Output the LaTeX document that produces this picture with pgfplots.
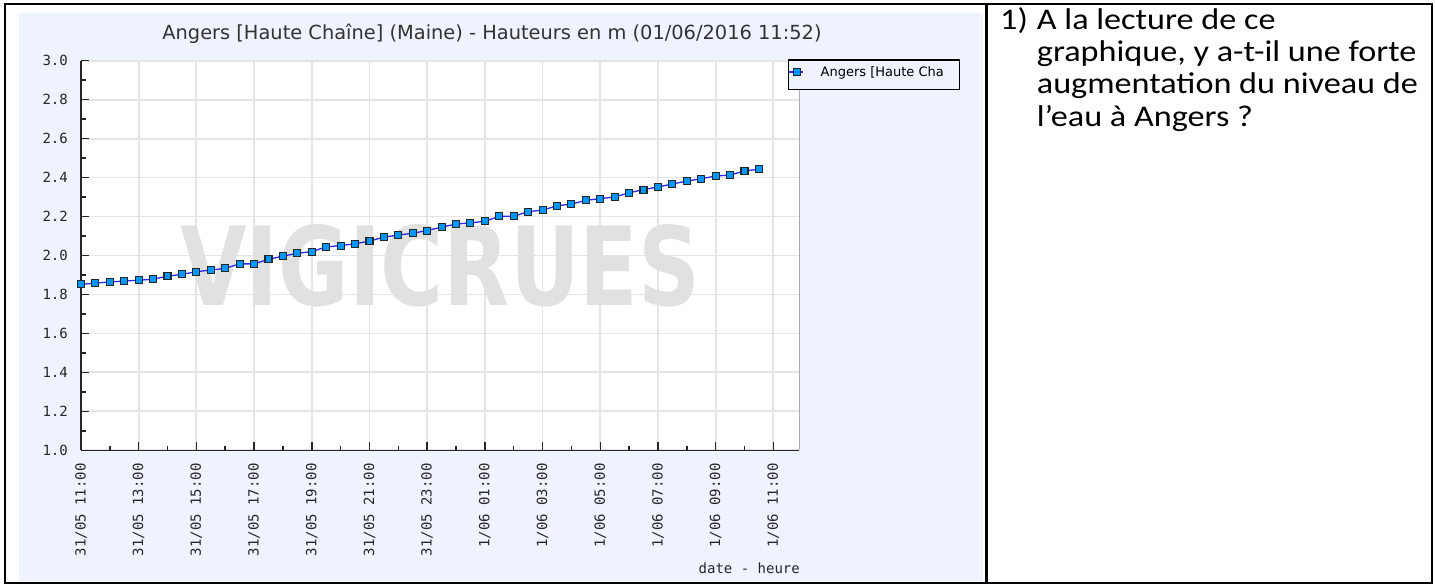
\documentclass[border=0pt]{standalone}
\usepackage{fontspec}
\usepackage{graphicx}
\usepackage{pgfplots}
\pgfplotsset{compat=1.18}
\setmainfont{DejaVu Sans}
\newfontfamily\monofont{DejaVu Sans Mono}
\newfontfamily\cellfont[FakeStretch=1.14]{Carlito}
\definecolor{bgblue}{RGB}{239,243,253}
\definecolor{gridgray}{RGB}{229,229,229}
\definecolor{wmgray}{RGB}{225,225,225}
\definecolor{lineblue}{RGB}{40,40,255}
\definecolor{markfill}{RGB}{0,150,255}
\newcommand{\tickfont}{\monofont\fontsize{14}{14}\selectfont}
\pgfplotstableread{
t v
0 1.852
0.5 1.858
1 1.864
1.5 1.869
2 1.873
2.5 1.878
3 1.894
3.5 1.903
4 1.917
4.5 1.925
5 1.934
5.5 1.957
6 1.957
6.5 1.980
7 1.997
7.5 2.011
8 2.020
8.5 2.044
9 2.051
9.5 2.060
10 2.074
10.5 2.094
11 2.105
11.5 2.114
12 2.128
12.5 2.146
13 2.161
13.5 2.168
14 2.175
14.5 2.201
15 2.201
15.5 2.225
16 2.233
16.5 2.255
17 2.264
17.5 2.283
18 2.292
18.5 2.300
19 2.322
19.5 2.338
20 2.352
20.5 2.367
21 2.382
21.5 2.394
22 2.408
22.5 2.413
23 2.434
23.5 2.443
}\datatable
\begin{document}
\begin{tikzpicture}
\path[use as bounding box] (0,0) rectangle (1435pt,585pt);
\fill[white] (0,0) rectangle (1435pt,585pt);
\fill[bgblue] (19pt,2pt) rectangle (983pt,571.5pt);
\node[anchor=base, inner sep=0pt, text=black!80, font=\fontsize{19.4}{19.4}\selectfont] at (492pt,545.7pt) {Angers [Haute Chaîne] (Maine) - Hauteurs en m (01/06/2016 11:52)};
\begin{axis}[
  at={(81pt,134.7pt)}, anchor=south west,
  scale only axis, width=718.3pt, height=389.6pt,
  xmin=0, xmax=24.9, ymin=1, ymax=3,
  axis x line*=bottom, axis y line*=left,
  axis line style={line width=1.5pt, black!85},
  tick style={line width=1.5pt, black!85},
  major tick length=8pt, minor tick length=4.5pt,
  tick align=inside,
  xtick={0,2,...,24},
  xticklabels={31/05 11:00,31/05 13:00,31/05 15:00,31/05 17:00,31/05 19:00,31/05 21:00,31/05 23:00,1/06 01:00,1/06 03:00,1/06 05:00,1/06 07:00,1/06 09:00,1/06 11:00},
  minor xtick={1,3,...,23},
  ytick={1,1.2,1.4,1.6,1.8,2,2.2,2.4,2.6,2.8,3},
  yticklabels={1.0,1.2,1.4,1.6,1.8,2.0,2.2,2.4,2.6,2.8,3.0},
  minor ytick={1.1,1.3,1.5,1.7,1.9,2.1,2.3,2.5,2.7,2.9},
  xmajorgrids, ymajorgrids,
  major grid style={line width=1.8pt, gridgray},
  ticklabel style={font=\tickfont, text=black!85, inner sep=0pt},
  xticklabel style={rotate=90, anchor=east},
  yticklabel style={anchor=east},
  xticklabel shift=13pt, yticklabel shift=13pt,
  axis background/.style={fill=white},
  legend style={at={(0.9839,1.0036)}, anchor=north west, draw=black, line width=1.3pt, fill=bgblue, inner sep=0pt, nodes={inner sep=0pt}, font=\fontsize{13}{13}\selectfont, cells={anchor=west}},
  legend image code/.code={
    \draw[#1, mark=none, line width=1.3pt] (0.7pt,0pt) -- (15pt,0pt);
    \draw[#1, only marks] plot coordinates {(8.7pt,0pt)};
    \path[draw=none, fill=none] (0pt,12pt) rectangle (32.3pt,-17.7pt);
  },
]
\node[anchor=south west, inner sep=0pt, text=wmgray] at (axis cs:3.43,1.736) {\resizebox{520pt}{81pt}{\bfseries VIGICRUES}};
\addplot[lineblue, line width=1.3pt, mark=square*, mark size=3.5pt, mark options={fill=markfill, draw=black!85, line width=1.1pt}] table[x=t, y=v] {\datatable};
\addlegendentry{\makebox[139pt][l]{Angers [Haute Cha}}
\draw[line width=1.5pt, black!85] (rel axis cs:1,0) -- (rel axis cs:1,1);
\end{axis}
\node[anchor=east, inner sep=0pt, font=\tickfont, text=black!85] at (800pt,17pt) {date - heure};
\draw[line width=2pt] (4.5pt,1.5pt) rectangle (1432pt,581.3pt);
\draw[line width=2.5pt] (986.5pt,1.5pt) -- (986.5pt,581.3pt);
\begin{scope}[every node/.style={anchor=base west, inner sep=0pt, font=\cellfont\fontsize{30}{32}\selectfont}]
\node at (1000pt,555.7pt) {1)};
\node at (1036.7pt,555.7pt) {A la lecture de ce};
\node at (1036.7pt,523.4pt) {graphique, y a-t-il une forte};
\node at (1036.7pt,491.1pt) {augmentation du niveau de};
\node at (1036.7pt,458.8pt) {l’eau à Angers ?};
\end{scope}
\end{tikzpicture}
\end{document}
